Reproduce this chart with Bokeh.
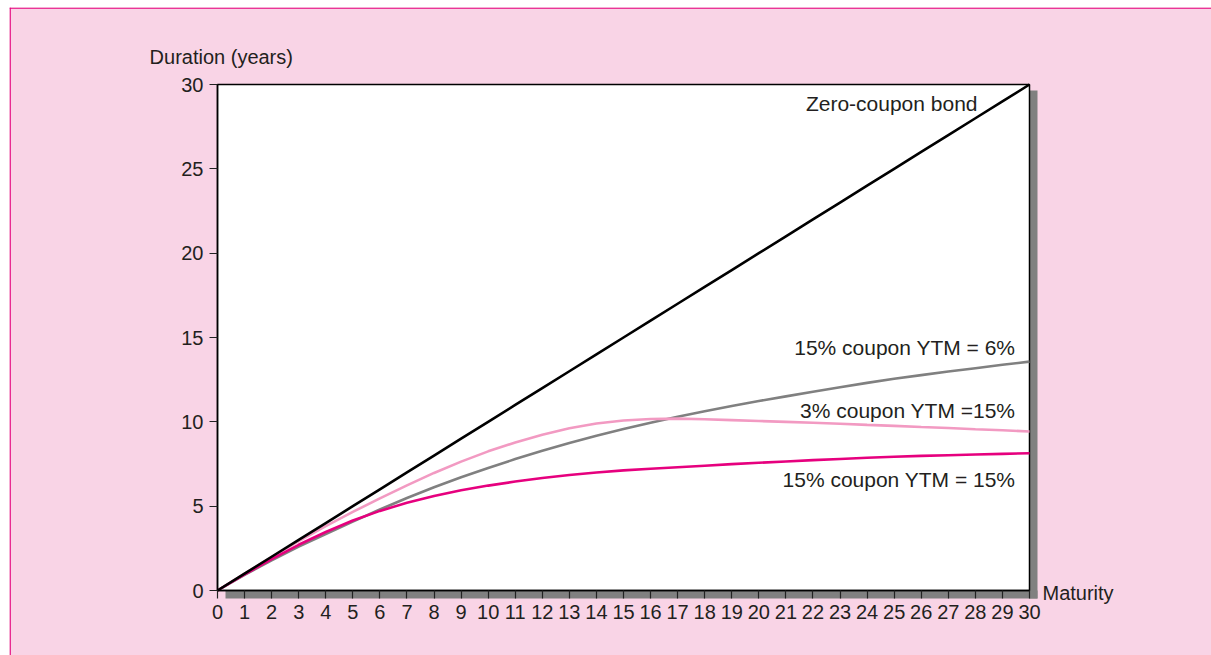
from bokeh.plotting import figure
from bokeh.models import Range1d, FixedTicker, Label
from bokeh.embed import file_html
from bokeh.resources import INLINE

# ---- data ----
maturity = list(range(31))
zero_coupon = [0, 1, 2, 3, 4, 5, 6, 7, 8, 9, 10, 11, 12, 13, 14, 15, 16, 17, 18, 19, 20,
               21, 22, 23, 24, 25, 26, 27, 28, 29, 30]
c15_ytm6 = [0, 0.93, 1.79, 2.60, 3.35, 4.08, 4.80, 5.48, 6.12, 6.71, 7.26, 7.79, 8.28, 8.74,
            9.17, 9.57, 9.95, 10.30, 10.63, 10.94, 11.23, 11.51, 11.78, 12.05, 12.31, 12.55,
            12.77, 12.98, 13.18, 13.38, 13.57]
c3_ytm15 = [0, 1.00, 1.98, 2.93, 3.82, 4.66, 5.46, 6.23, 6.97, 7.64, 8.25, 8.78, 9.24, 9.62,
            9.90, 10.08, 10.17, 10.19, 10.15, 10.10, 10.05, 10.00, 9.95, 9.89, 9.82, 9.76,
            9.69, 9.63, 9.56, 9.50, 9.43]
c15_ytm15 = [0, 0.95, 1.86, 2.71, 3.47, 4.15, 4.72, 5.20, 5.60, 5.94, 6.22, 6.46, 6.67, 6.85,
             7.00, 7.12, 7.22, 7.31, 7.40, 7.49, 7.57, 7.65, 7.73, 7.80, 7.87, 7.93, 7.98,
             8.02, 8.06, 8.10, 8.14]
x_ticks = list(range(0, 31))
y_ticks = [0, 5, 10, 15, 20, 25, 30]
X0, X1 = 0, 30
Y0, Y1 = 0, 30

# ---- layout (pixels) ----
W, H = 1211, 655
PANEL_L, PANEL_T = 9, 7                 # pink panel top-left on canvas
PLOT_L, PLOT_R, PLOT_T, PLOT_B = 217, 1029, 84, 590   # plot area on canvas
SH = 8                                  # shadow offset in px

xs = (PLOT_R - PLOT_L) / (X1 - X0)      # px per unit
ys = (PLOT_B - PLOT_T) / (Y1 - Y0)
x_start = X0 - (PLOT_L - PANEL_L) / xs
x_end = X1 + (W - PLOT_R) / xs
y_start = Y0 - (H - PLOT_B) / ys
y_end = Y1 + (PLOT_T - PANEL_T) / ys
dx, dy = SH / xs, SH / ys

FONT = "Liberation Sans"
FS = "20px"
FS_LAB = "21px"
TXT = "#231f20"
PINK_BG = "#f9d4e6"
MAGENTA = "#e4007c"

p = figure(width=W, height=H, output_backend="svg", toolbar_location=None,
           x_range=Range1d(x_start, x_end), y_range=Range1d(y_start, y_end),
           min_border_left=PANEL_L, min_border_top=PANEL_T,
           min_border_right=0, min_border_bottom=0)
p.border_fill_color = "white"
p.background_fill_color = PINK_BG
p.outline_line_color = None
p.grid.visible = False

# pink panel border (left & top)
p.quad(left=[x_start], right=[x_start + 1.3 / xs], bottom=[y_start], top=[y_end],
       fill_color=MAGENTA, line_color=None)
p.quad(left=[x_start], right=[x_end], bottom=[y_end - 1.3 / ys], top=[y_end],
       fill_color=MAGENTA, line_color=None)

# shadow of the plot area
p.quad(left=[X0 + dx], right=[X1 + dx], bottom=[Y0 - dy], top=[Y0],
       fill_color="#808080", line_color=None)
p.quad(left=[X1], right=[X1 + dx], bottom=[Y0 - dy], top=[Y1 - 0.75 * dy],
       fill_color="#808080", line_color=None)
# plot area
p.quad(left=[X0], right=[X1], bottom=[Y0], top=[Y1],
       fill_color="white", line_color="black", line_width=1.5)

# axes
p.xaxis.fixed_location = Y0
p.yaxis.fixed_location = X0
for ax in (p.xaxis[0], p.yaxis[0]):
    ax.axis_line_color = "black"
    ax.axis_line_width = 1.5
    ax.major_tick_line_color = "#222222"
    ax.major_tick_line_width = 1.2
    ax.major_tick_in = 0
    ax.major_tick_out = 8
    ax.minor_tick_line_color = None
    ax.major_label_text_font = FONT
    ax.major_label_text_font_size = FS
    ax.major_label_text_color = TXT
    ax.major_label_standoff = 6
p.xaxis.bounds = (X0, X1)
p.yaxis.bounds = (Y0, Y1)
p.xaxis.ticker = FixedTicker(ticks=x_ticks)
p.yaxis.ticker = FixedTicker(ticks=y_ticks)

# lines
p.line(maturity, c15_ytm6, line_color="#808080", line_width=2.6)
p.line(maturity, c3_ytm15, line_color="#f29ac2", line_width=2.6)
p.line(maturity, c15_ytm15, line_color="#e6007e", line_width=2.6)
p.line(maturity, zero_coupon, line_color="black", line_width=2.6)

def lab(x, y, t, align="right", size=FS_LAB):
    p.add_layout(Label(x=x, y=y, text=t, text_font=FONT, text_font_size=size,
                       text_color=TXT, text_align=align, text_baseline="alphabetic"))

lab(28.08, 28.87, "Zero-coupon bond")
lab(29.48, 14.39, "15% coupon YTM = 6%")
lab(29.48, 10.69, "3% coupon YTM =15%")
lab(29.48, 6.60, "15% coupon YTM = 15%")
lab(-2.51, 31.64, "Duration (years)", align="left", size=FS)
lab(30.48, -0.17, "Maturity", align="left", size=FS)

open("out.html", "w").write(file_html(p, INLINE))
